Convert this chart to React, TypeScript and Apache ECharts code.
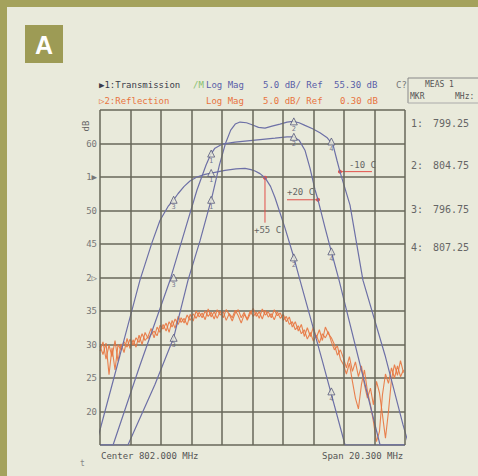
import React, { useEffect, useRef } from "react";
import * as echarts from "echarts";

// ---- sweep settings ----
const F_MIN = 791.85;
const F_MAX = 812.15;
const gridFreqs = [791.85, 793.88, 795.91, 797.94, 799.97, 802.0, 804.03, 806.06, 808.09, 810.12, 812.15];

// ---- y axis ----
const DB_MIN = 15;
const DB_MAX = 65;
const DB_STEP = 5;
const yTickValues = [20, 25, 30, 35, 40, 45, 50, 55, 60];
const yTickLabels = ["20", "25", "30", "35", "2▷", "45", "50", "1▶", "60"];

// ---- transmission traces [MHz, dB] ----
const transMinus10 = [
  [791.85, 15.0], [793.71, 15.0], [795.5, 24.0], [796.75, 31.0], [797.71, 39.6], [798.51, 45.5],
  [799.3, 52.0], [799.8, 56.8], [800.2, 60.0], [800.55, 62.0], [800.85, 62.9], [801.17, 63.2],
  [801.6, 63.1], [801.97, 62.8], [802.4, 62.4], [802.83, 62.3], [803.3, 62.6], [803.83, 62.9],
  [804.3, 63.2], [804.7, 63.3], [805.1, 63.1], [805.49, 62.7], [806.0, 62.2], [806.49, 61.6],
  [806.95, 60.9], [807.36, 59.8], [807.62, 57.5], [807.82, 55.8], [808.49, 50.8], [809.35, 39.6],
  [810.82, 28.4], [812.02, 18.0], [812.48, 14.4],
];
const transPlus20 = [
  [791.85, 15.0], [792.72, 15.0], [794.51, 26.9], [796.51, 39.6], [797.51, 47.1],
  [798.31, 53.1], [798.91, 56.8], [799.2, 58.3], [799.5, 59.3], [799.97, 59.9], [800.84, 60.2],
  [802.17, 60.5], [803.5, 60.8], [804.3, 61.0], [804.7, 61.0], [805.1, 60.5], [805.49, 59.0],
  [805.83, 56.3], [806.16, 53.1], [806.36, 51.6], [806.83, 47.4], [807.22, 44.1], [807.76, 39.6],
  [810.49, 15.0], [812.15, 15.0],
];
const transPlus55 = [
  [791.58, 15.0], [793.18, 28.4], [794.51, 39.6], [795.31, 45.2], [795.84, 48.5],
  [796.38, 50.6], [796.75, 51.6], [797.04, 52.5], [797.45, 53.6], [797.84, 54.4], [798.3, 55.0],
  [798.84, 55.4], [799.5, 55.7], [800.17, 56.0], [800.9, 56.2], [801.5, 56.3], [801.9, 56.1],
  [802.17, 55.9], [802.5, 55.5], [802.83, 54.9], [803.2, 53.6], [803.5, 51.9], [804.16, 47.4],
  [804.7, 43.4], [805.16, 39.6], [806.63, 27.7], [808.16, 15.0], [812.15, 15.0],
];

// ---- reflection traces (two overlaid runs) ----
const reflStartMHz = 791.85;
const reflStepMHz = 0.2;
const reflDbA = [
  29.8, 28.5, 30.2, 25.5, 29.5, 26.2, 30.0, 29.2, 30.4, 29.6, 30.8,
  29.9, 31.0, 30.3, 31.6, 30.6, 31.2, 32.4, 31.0, 32.6, 31.8,
  33.0, 32.0, 33.4, 32.6, 33.8, 33.0, 34.0, 33.2, 34.4, 33.6, 34.6, 33.9, 34.8,
  34.0, 35.0, 34.2, 34.8, 33.8, 35.2, 34.4, 34.9, 33.6, 34.6, 34.0, 35.1, 34.3, 33.2, 34.5, 33.8,
  35.0, 34.2, 34.8, 33.9, 35.3, 34.4, 34.9, 34.0, 35.2, 34.3, 34.7, 33.6, 34.2, 33.0,
  33.4, 32.2, 32.8, 31.6, 32.2, 30.8, 31.8, 30.5, 31.4, 30.2, 31.6, 31.0, 31.9, 30.4, 29.2, 29.8, 27.8,
  27.0, 25.6, 27.2, 24.5, 22.0, 20.4, 24.0, 26.2, 23.0, 21.0, 18.5, 15.5, 17.0, 22.5, 25.6, 24.2,
  26.5, 25.0, 26.8, 25.2, 26.2,
];
const reflDbB = [
  29.0, 30.4, 27.8, 29.9, 28.2, 30.6, 27.5, 30.1, 28.8, 30.9, 29.4,
  30.7, 29.6, 31.4, 30.0, 31.8, 30.9, 31.5, 32.0, 31.3, 32.9,
  32.3, 33.2, 31.8, 33.6, 32.4, 34.2, 33.3, 33.9, 32.9, 34.5, 33.5, 35.0, 34.1,
  34.7, 33.7, 35.3, 34.1, 34.9, 33.9, 35.0, 34.0, 35.2, 34.5, 33.5, 34.7, 35.2, 34.0, 34.8, 33.6,
  34.6, 35.4, 34.2, 34.9, 33.8, 35.1, 34.1, 34.6, 33.7, 34.9, 33.9, 34.5, 33.4, 34.1,
  32.6, 33.4, 32.0, 33.0, 31.2, 32.5, 31.2, 32.6, 31.0, 32.2, 30.6, 32.6, 31.6, 31.0, 30.0, 28.4, 29.2,
  28.0, 26.5, 28.2, 26.0, 27.4, 25.2, 26.8, 24.0, 22.0, 23.5, 21.0, 24.5, 22.8, 19.5, 16.0, 20.0,
  24.8, 27.0, 25.4, 27.6, 25.8,
];

// ---- markers ----
const markerNames = ["1", "2", "3", "4"];
const markerFreqs = [799.25, 804.75, 796.75, 807.25];
const markerFreqLabels = ["799.25", "804.75", "796.75", "807.25"];
const markerDbMinus10 = [51.6, 63.3, 31.0, 60.3];
const markerDbPlus20 = [58.5, 61.0, 40.0, 43.9];
const markerDbPlus55 = [55.6, 43.0, 51.6, 23.0];

// ---- temperature annotations ----
const tempLabels = ["-10 C", "+20 C", "+55 C"];
const tempAnchors = [
  [807.82, 55.8],
  [806.36, 51.6],
  [802.83, 54.9],
];

const BG = "#e9eadb";
const OLIVE = "#a4a25c";
const GRID = "#67675a";
const TRACE = "#6d70a6";
const ORANGE = "#e8743e";
const RED = "#e2504a";
const MONO = "DejaVu Sans Mono, monospace";

export default function App() {
  const ref = useRef<HTMLDivElement>(null);
  useEffect(() => {
    if (!ref.current) return;
    const chart = echarts.init(ref.current, null, { renderer: "svg" });

    const toRefl = (arr: number[]) => arr.map((v, i) => [reflStartMHz + i * reflStepMHz, v]);
    const mk = (vals: number[]) => vals.map((v, i) => ({ value: [markerFreqs[i], v], name: markerNames[i] }));
    const markerSeries = (vals: number[]) => ({
      type: "scatter",
      data: mk(vals),
      symbol: "triangle",
      symbolSize: 7,
      itemStyle: { color: BG, borderColor: "#55587a", borderWidth: 1 },
      label: {
        show: true,
        position: "bottom",
        distance: 0,
        formatter: (p: any) => p.name,
        fontSize: 7,
        fontFamily: MONO,
        color: "#55587a",
      },
      z: 5,
    });
    const traceSeries = (data: number[][]) => ({
      type: "line",
      data,
      showSymbol: false,
      smooth: false,
      lineStyle: { color: TRACE, width: 1.2 },
      z: 3,
    });
    const reflSeries = (arr: number[]) => ({
      type: "line",
      data: toRefl(arr),
      showSymbol: false,
      lineStyle: { color: ORANGE, width: 1.1, opacity: 0.9 },
      z: 2,
    });

    const txt = (x: number, y: number, text: string, color: string, size = 9, extra: any = {}) => ({
      type: "text",
      x,
      y,
      style: { text, fill: color, font: `${size}px ${MONO}`, textVerticalAlign: "middle", ...extra },
    });

    const staticGraphics: any[] = [
      { type: "rect", shape: { x: 0, y: 0, width: 478, height: 7 }, style: { fill: OLIVE } },
      { type: "rect", shape: { x: 0, y: 0, width: 7, height: 476 }, style: { fill: OLIVE } },
      { type: "rect", shape: { x: 25, y: 25, width: 38, height: 38 }, style: { fill: "#9d9b55" } },
      {
        type: "text", x: 44, y: 45,
        style: { text: "A", fill: "#ffffff", font: "bold 25px Liberation Sans, Arial, sans-serif", textAlign: "center", textVerticalAlign: "middle" },
      },
      txt(99, 85, "▶1:Transmission", "#3a3a4a"),
      txt(193, 85, "/M", "#88c070"),
      txt(206, 85, "Log Mag", "#5a60a8"),
      txt(263, 85, "5.0 dB/ Ref", "#5a60a8"),
      txt(334, 85, "55.30 dB", "#5a60a8"),
      txt(396, 85, "C?", "#777"),
      txt(99, 101, "▷2:Reflection", ORANGE),
      txt(206, 101, "Log Mag", ORANGE),
      txt(263, 101, "5.0 dB/ Ref", ORANGE),
      txt(340, 101, "0.30 dB", ORANGE),
      { type: "line", shape: { x1: 408, y1: 78, x2: 478, y2: 78 }, style: { stroke: "#888", lineWidth: 1 } },
      { type: "line", shape: { x1: 408, y1: 78, x2: 408, y2: 103 }, style: { stroke: "#888", lineWidth: 1 } },
      { type: "line", shape: { x1: 408, y1: 103, x2: 478, y2: 103 }, style: { stroke: "#aaa", lineWidth: 1 } },
      txt(425, 84, "MEAS 1", "#555", 8),
      txt(410, 96, "MKR", "#555", 8),
      txt(455, 96, "MHz:", "#555", 8),
      {
        type: "text", x: 86, y: 126, rotation: Math.PI / 2,
        style: { text: "dB", fill: "#666", font: `9px ${MONO}`, textAlign: "center", textVerticalAlign: "middle" },
      },
      txt(101, 456, "Center 802.000 MHz", "#555"),
      txt(322, 456, "Span 20.300 MHz", "#555"),
      txt(80, 463, "t", "#888", 8),
    ];
    const markerListY = [123, 165, 209, 247];
    markerNames.forEach((n, i) => {
      staticGraphics.push(txt(411, markerListY[i], `${n}:`, "#666", 10));
      staticGraphics.push(txt(433, markerListY[i], markerFreqLabels[i], "#666", 10));
    });

    chart.setOption({
      animation: false,
      backgroundColor: BG,
      grid: { left: 100, top: 110, width: 305, height: 335, containLabel: false },
      xAxis: {
        type: "value",
        min: F_MIN,
        max: F_MAX,
        axisLabel: { show: false },
        axisTick: { show: false },
        axisLine: { show: false },
        splitLine: { show: false },
      },
      yAxis: {
        type: "value",
        min: DB_MIN,
        max: DB_MAX,
        interval: DB_STEP,
        axisLine: { show: false },
        axisTick: { show: false },
        splitLine: { show: true, lineStyle: { color: GRID, width: 1.5 } },
        axisLabel: {
          margin: 3,
          fontSize: 9,
          fontFamily: MONO,
          color: "#777",
          formatter: (v: number) => {
            const i = yTickValues.indexOf(v);
            return i >= 0 ? yTickLabels[i] : "";
          },
        },
      },
      series: [
        {
          type: "line",
          data: [],
          markLine: {
            silent: true,
            symbol: "none",
            label: { show: false },
            lineStyle: { color: GRID, width: 1.5, type: "solid" },
            data: gridFreqs.map((f) => ({ xAxis: f })),
          },
        },
        reflSeries(reflDbA),
        reflSeries(reflDbB),
        traceSeries(transMinus10),
        traceSeries(transPlus20),
        traceSeries(transPlus55),
        markerSeries(markerDbMinus10),
        markerSeries(markerDbPlus20),
        markerSeries(markerDbPlus55),
      ],
      graphic: staticGraphics,
    });

    const ann: any[] = [];
    const p0 = chart.convertToPixel({ gridIndex: 0 }, tempAnchors[0]) as number[];
    const p1 = chart.convertToPixel({ gridIndex: 0 }, tempAnchors[1]) as number[];
    const p2 = chart.convertToPixel({ gridIndex: 0 }, tempAnchors[2]) as number[];
    ann.push({ type: "line", shape: { x1: p0[0], y1: p0[1], x2: p0[0] + 32, y2: p0[1] }, style: { stroke: RED, lineWidth: 1 } });
    ann.push({ type: "circle", shape: { cx: p0[0], cy: p0[1], r: 2 }, style: { fill: RED } });
    ann.push(txt(p0[0] + 9, p0[1] - 7, tempLabels[0], "#666", 9));
    ann.push({ type: "line", shape: { x1: p1[0] - 31, y1: p1[1], x2: p1[0], y2: p1[1] }, style: { stroke: RED, lineWidth: 1 } });
    ann.push({ type: "circle", shape: { cx: p1[0], cy: p1[1], r: 2 }, style: { fill: RED } });
    ann.push(txt(p1[0] - 31, p1[1] - 8, tempLabels[1], "#666", 9));
    ann.push({ type: "line", shape: { x1: p2[0], y1: p2[1], x2: p2[0], y2: p2[1] + 45 }, style: { stroke: RED, lineWidth: 1 } });
    ann.push({ type: "circle", shape: { cx: p2[0], cy: p2[1], r: 2 }, style: { fill: RED } });
    ann.push(txt(p2[0] - 11, p2[1] + 52, tempLabels[2], "#666", 9));
    chart.setOption({ graphic: [...staticGraphics, ...ann] }, { replaceMerge: ["graphic"] });

    return () => chart.dispose();
  }, []);
  return <div ref={ref} style={{ position: "fixed", left: 0, top: 0, width: 478, height: 476 }} />;
}
